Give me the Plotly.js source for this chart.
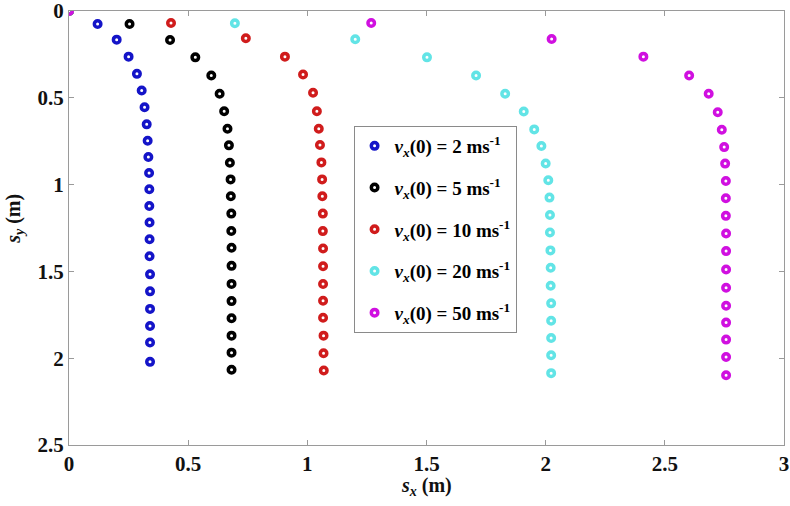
<!DOCTYPE html>
<html>
<head>
<meta charset="utf-8">
<script src="https://cdn.plot.ly/plotly-3.0.1.min.js"></script>
<style>html,body{margin:0;padding:0;background:#fff;}#chart{width:790px;height:506px;}</style>
</head>
<body>
<div id="chart"></div>
<script>
// Series: s_x (m) and s_y (m) for each initial horizontal speed
const labels = ["2", "5", "10", "20", "50"];
const colors = ["#1414c8", "#000000", "#d01c1c", "#62e4e6", "#d010e0"];

const sx_2 = [0, 0.12, 0.20, 0.25, 0.285, 0.305, 0.317, 0.326, 0.330, 0.333, 0.336, 0.337, 0.337, 0.338, 0.338, 0.338, 0.340, 0.340, 0.340, 0.340, 0.340, 0.340];
const sy_2 = [0, 0.075, 0.165, 0.263, 0.362, 0.458, 0.554, 0.653, 0.747, 0.841, 0.933, 1.027, 1.123, 1.218, 1.315, 1.413, 1.517, 1.615, 1.716, 1.815, 1.910, 2.021];

const sx_5 = [0, 0.254, 0.424, 0.530, 0.597, 0.632, 0.651, 0.665, 0.671, 0.675, 0.678, 0.679, 0.681, 0.681, 0.682, 0.682, 0.682, 0.682, 0.682, 0.682, 0.682, 0.682];
const sy_5 = [0, 0.075, 0.167, 0.267, 0.372, 0.477, 0.577, 0.678, 0.774, 0.874, 0.970, 1.067, 1.167, 1.267, 1.364, 1.468, 1.572, 1.671, 1.770, 1.870, 1.968, 2.067];

const sx_10 = [0, 0.428, 0.742, 0.906, 0.982, 1.024, 1.040, 1.048, 1.053, 1.059, 1.062, 1.063, 1.065, 1.065, 1.066, 1.066, 1.066, 1.066, 1.066, 1.068, 1.068, 1.069];
const sy_10 = [0, 0.069, 0.157, 0.263, 0.366, 0.471, 0.577, 0.678, 0.772, 0.872, 0.970, 1.067, 1.167, 1.268, 1.368, 1.470, 1.573, 1.669, 1.767, 1.870, 1.971, 2.071];

const sx_20 = [0, 0.696, 1.201, 1.502, 1.708, 1.830, 1.908, 1.952, 1.982, 2.000, 2.011, 2.016, 2.018, 2.018, 2.020, 2.021, 2.021, 2.023, 2.023, 2.023, 2.023, 2.023];
const sy_20 = [0, 0.071, 0.163, 0.267, 0.372, 0.477, 0.579, 0.682, 0.778, 0.878, 0.975, 1.075, 1.175, 1.276, 1.379, 1.479, 1.583, 1.684, 1.784, 1.884, 1.983, 2.086];

const sx_50 = [0, 1.268, 2.025, 2.410, 2.602, 2.684, 2.722, 2.739, 2.749, 2.753, 2.756, 2.756, 2.756, 2.757, 2.757, 2.757, 2.757, 2.757, 2.757, 2.757, 2.757, 2.757];
const sy_50 = [0, 0.069, 0.161, 0.263, 0.372, 0.477, 0.583, 0.684, 0.784, 0.879, 0.979, 1.079, 1.180, 1.282, 1.383, 1.489, 1.594, 1.698, 1.795, 1.893, 1.993, 2.098];

const xs = [sx_2, sx_5, sx_10, sx_20, sx_50];
const ys = [sy_2, sy_5, sy_10, sy_20, sy_50];

const xTicks = [0, 0.5, 1, 1.5, 2, 2.5, 3];
const xTickText = ["0", "0.5", "1", "1.5", "2", "2.5", "3"];
const yTicks = [0, 0.5, 1, 1.5, 2, 2.5];
const yTickText = ["0", "0.5", "1", "1.5", "2", "2.5"];

const serif = "Liberation Serif, Times New Roman, serif";
const bold = (arr) => arr.map(t => "<b>" + t + "</b>");

const traces = labels.map((lab, i) => ({
  type: "scatter",
  mode: "markers",
  x: xs[i],
  y: ys[i],
  name: "<b><i>v</i><sub><i>x</i></sub>(0) = " + lab + " ms<sup>-1</sup></b>",
  legendgroup: "g" + i,
  marker: {
    symbol: "circle-open",
    size: 6.5,
    color: colors[i],
    line: {width: 3.5, color: colors[i]}
  }
}));

const axisCommon = {
  showgrid: false,
  zeroline: false,
  showline: true,
  linecolor: "#9a9a9a",
  linewidth: 1,
  mirror: "ticks",
  ticks: "inside",
  ticklen: 5,
  tickcolor: "#9a9a9a",
  tickfont: {family: serif, size: 21, color: "#111"},
  tickmode: "array",
  ticklabeloverflow: "allow"
};

const layout = {
  width: 790,
  height: 506,
  margin: {l: 69, r: 6, t: 11, b: 61},
  paper_bgcolor: "#ffffff",
  plot_bgcolor: "#ffffff",
  showlegend: true,
  legend: {
    x: 0.398, y: 0.735, xanchor: "left", yanchor: "top",
    bgcolor: "#ffffff",
    bordercolor: "#8a8a8a",
    borderwidth: 1,
    font: {family: serif, size: 19, color: "#000"},
    traceorder: "grouped",
    tracegroupgap: 14,
    itemwidth: 30
  },
  xaxis: Object.assign({}, axisCommon, {
    range: [0, 3],
    tickvals: xTicks,
    ticktext: bold(xTickText)
  }),
  yaxis: Object.assign({}, axisCommon, {
    range: [2.5, 0],
    tickvals: yTicks,
    ticktext: bold(yTickText)
  }),
  annotations: [
    {
      text: "<b><i>s</i><sub><i>x</i></sub> (m)</b>",
      xref: "paper", yref: "paper", x: 0.5, y: 0,
      xanchor: "center", yanchor: "top", yshift: -27,
      showarrow: false,
      font: {family: serif, size: 20, color: "#111"}
    },
    {
      text: "<b><i>s</i><sub><i>y</i></sub> (m)</b>",
      xref: "paper", yref: "paper", x: 0, y: 0.52,
      xanchor: "right", yanchor: "middle", xshift: -40,
      textangle: -90,
      showarrow: false,
      font: {family: serif, size: 20, color: "#111"}
    }
  ]
};

Plotly.newPlot("chart", traces, layout, {displayModeBar: false, staticPlot: true});
</script>
</body>
</html>
